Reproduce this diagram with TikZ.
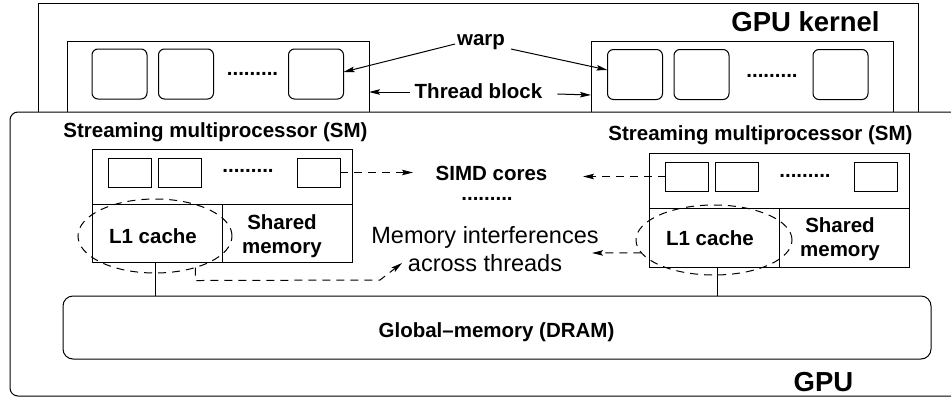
\documentclass[tikz,border=0pt]{standalone}
\usepackage{fontspec}
\setmainfont{Liberation Sans}
\usetikzlibrary{arrows.meta,shapes.geometric}
\begin{document}
\begin{tikzpicture}[x=1pt,y=-1pt,
  line width=1pt,
  every node/.style={inner sep=0pt, outer sep=0pt},
  lab/.style={font=\bfseries\fontsize{20.5}{24}\selectfont},
  biglab/.style={font=\bfseries\fontsize{27.5}{32}\selectfont},
  plainlab/.style={font=\fontsize{23.5}{28}\selectfont, align=center},
  box/.style={draw, rectangle},
  warpbox/.style={draw, rounded corners=6pt, minimum width=55pt, minimum height=50pt},
  core/.style={draw, minimum width=43pt, minimum height=29pt},
  tip/.style={-{Stealth[length=11pt,width=5.5pt,inset=2pt]}},
  dashtip/.style={tip, dash pattern=on 8pt off 6pt},
  ring/.style={draw, ellipse, dash pattern=on 8pt off 6pt},
]
\useasboundingbox (0,0) rectangle (951,397);
\clip (0,0) rectangle (951,397);

% ---- GPU kernel with its two thread blocks ----
\node[box, minimum width=880pt, minimum height=109pt] (kernel) at (478,57.5) {};
\node[biglab] (kerneltxt) at (805.5,22) {GPU kernel};

\node[box, minimum width=302pt, minimum height=71pt] (tbL) at (218,76.5) {};
\node[box, minimum width=302pt, minimum height=71pt] (tbR) at (742,76.5) {};

\node[warpbox] (wL1) at (119.5,74) {};
\node[warpbox] (wL2) at (186,74) {};
\node[warpbox] (wL3) at (316,74) {};
\node[lab] (dotsL) at (252.5,74) {.........};

\node[warpbox] (wR1) at (635,74.5) {};
\node[warpbox] (wR2) at (701.5,74.5) {};
\node[warpbox] (wR3) at (840.5,74.5) {};
\node[lab] (dotsR) at (772,76) {.........};

\node[lab] (warp) at (481,42) {warp};
\node[lab] (tblock) at (478.5,91) {Thread block};

\coordinate (wtipL) at (wL3.east |- 0,72);
\coordinate (wtipR) at (wR1.west |- 0,70);
\draw[tip] (warp.west) ++(-2,2) -- (wtipL);
\draw[tip] (warp.east) ++(6,7) -- (wtipR);
\draw[tip] (tblock.west) ++(-5,1) -- (tbL.east |- 0,92);
\draw[tip] (tblock.east) ++(15,3) -- (tbR.west |- 0,95);

% ---- GPU ----
\node[draw, fill=white, rounded corners=8pt, minimum width=950pt, minimum height=284pt] (gpu) at (485,254) {};
\node[biglab] (gputxt) at (823.5,382) {GPU};

% left streaming multiprocessor
\node[lab] (smLtxt) at (215.5,132) {Streaming multiprocessor (SM)};
\node[box, minimum width=260pt, minimum height=55pt] (smLtop) at (222,176.5) {};
\node[box, minimum width=130pt, minimum height=58pt] (l1L) at (157,233) {};
\node[box, minimum width=130pt, minimum height=58pt] (shL) at (287,233) {};
\node[lab] (l1Ltxt) at (153,236) {L1 cache};
\node[lab, align=center] (shLtxt) at (282,236) {Shared\\memory};
\node[core] (cL1) at (129.5,172.5) {};
\node[core] (cL2) at (180,172.5) {};
\node[core] (cL3) at (318.5,172.5) {};
\node[lab] (cdotsL) at (248,171) {.........};
\node[ring, minimum width=154pt, minimum height=74pt] (ellL) at (155,236) {};

% right streaming multiprocessor
\node[lab] (smRtxt) at (760.5,135) {Streaming multiprocessor (SM)};
\node[box, minimum width=260pt, minimum height=55pt] (smRtop) at (779,180.5) {};
\node[box, minimum width=130pt, minimum height=59pt] (l1R) at (714,237.5) {};
\node[box, minimum width=130pt, minimum height=59pt] (shR) at (844,237.5) {};
\node[lab] (l1Rtxt) at (710,238) {L1 cache};
\node[lab, align=center] (shRtxt) at (840,239) {Shared\\memory};
\node[core] (cR1) at (687,176.5) {};
\node[core] (cR2) at (737,176.5) {};
\node[core] (cR3) at (875.5,176.5) {};
\node[lab] (cdotsR) at (805,176) {.........};
\node[ring, minimum width=156pt, minimum height=70pt] (ellR) at (714,240) {};

% middle annotations
\node[lab] (simd) at (491.5,173) {SIMD cores};
\node[lab] (mdots) at (487,199) {.........};
\node[plainlab] (memtxt) at (485,249) {Memory interferences\\across threads};

\coordinate (simdtipL) at (413,172.5);
\coordinate (simdtipR) at (583,176.5);
\coordinate (memtipR) at (592,253);
\coordinate (memtipL) at (402,263);
\draw[dashtip] (cL3.east) -- (simdtipL);
\draw[dashtip] (cR1.west) -- (simdtipR);
\draw[dashtip] (ellR.190) -- (memtipR);
\draw[dashtip] (ellL.-38) -- ++(0,13) -- (380,280) -- (memtipL);

% global memory and its links to the L1 caches
\node[draw, rounded corners=10pt, minimum width=868pt, minimum height=63pt] (dram) at (497,327.5) {};
\node[lab] (dramtxt) at (496.5,332) {Global--memory (DRAM)};
\draw (l1L.south -| 155,0) -- (dram.north -| 155,0);
\draw (l1R.south -| 717,0) -- (dram.north -| 717,0);
\end{tikzpicture}
\end{document}
